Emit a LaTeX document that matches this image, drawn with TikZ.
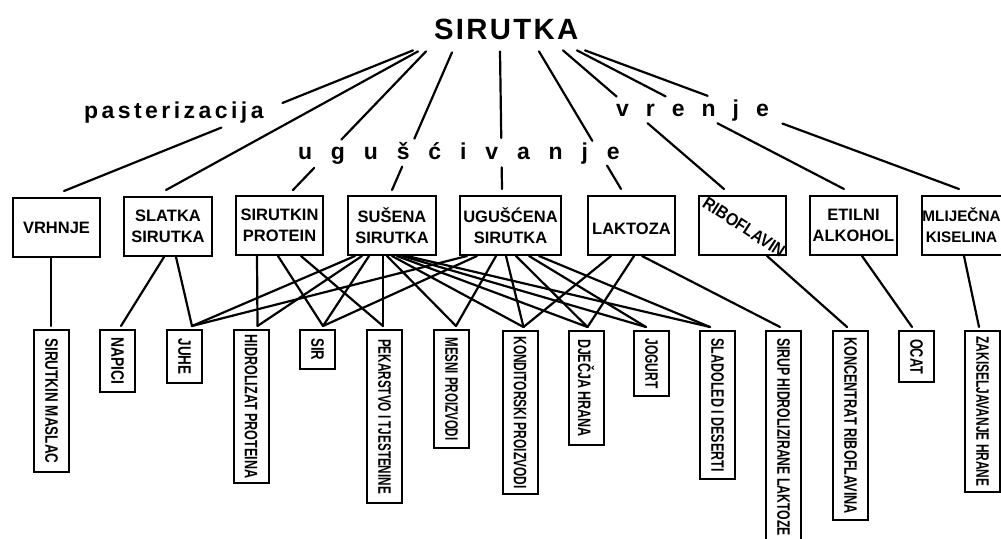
\documentclass[tikz,border=0pt]{standalone}
\usepackage{fontspec}
\setmainfont{Liberation Sans}
\newfontfamily\titlef[LetterSpace=8]{Liberation Sans Bold}
\newfontfamily\lblf[LetterSpace=15]{Liberation Sans Bold}
\newfontfamily\spreadf[LetterSpace=82]{Liberation Sans Bold}
\newfontfamily\spreadg[LetterSpace=74]{Liberation Sans Bold}
\newfontfamily\boxf{Liberation Sans Bold}
\usetikzlibrary{calc}
\newcommand\vt[2]{\rotatebox{-90}{\resizebox{#1pt}{\height}{#2}}}
\newcommand\conn[4]{\draw ($(#1.south west)+(#2,0)$) -- ($(#3.north west)+(#4,-3)$);}
\newcommand\toplink[4]{\draw (#1) -- ($(#1)!#3!(#2)$) ($(#1)!#4!(#2)$) -- (#2);}
\begin{document}
\begin{tikzpicture}[x=1pt,y=-1pt, line width=2.2pt, line cap=round,
  topbox/.style={draw, line width=2pt, minimum width=87pt, minimum height=59pt, inner sep=0pt, align=center, font=\boxf\fontsize{16.5}{21}\selectfont},
  boxtxt/.style={inner sep=0pt, align=center, font=\boxf\fontsize{16.5}{21}\selectfont},
  botbox/.style={draw, line width=2pt, minimum width=35pt, inner sep=0pt, anchor=north, font=\boxf\fontsize{18}{18}\selectfont},
  lbl/.style={anchor=base west, inner sep=0pt}]
\fill[white] (0,0) rectangle (1001,538);
\useasboundingbox (0,0) rectangle (1001,538);

% title and process labels
\node[lbl, font=\titlef\fontsize{29.3}{29}\selectfont] (sirutka) at (433,39) {SIRUTKA};
\node[lbl, font=\lblf\fontsize{23}{23}\selectfont] (past) at (83,118) {pasterizacija};
\node[lbl, font=\spreadf\fontsize{23}{23}\selectfont] (ugus) at (297,159) {ugušćivanje};
\node[lbl, font=\spreadg\fontsize{23}{23}\selectfont] (vrenje) at (615,116) {vrenje};

% first level
\node[topbox] (vrhnje) at (56.5,227.5) {VRHNJE};
\node[topbox, minimum width=88pt] (slatka) at (168,226.5) {SLATKA\\SIRUTKA};
\node[topbox] (protein) at (279.5,225.5) {SIRUTKIN\\PROTEIN};
\node[topbox, minimum width=88pt] (susena) at (392,225.5) {SUŠENA\\SIRUTKA};
\node[topbox, minimum width=101pt] (ugusc) at (510.5,225.5) {UGUŠĆENA\\SIRUTKA};
\node[topbox] (laktoza) at (631.5,225.5) {};
\node[boxtxt] (laktxt) at (631.5,228.5) {LAKTOZA};
\node[topbox] (ribo) at (742.5,225.5) {};
\node[rotate=-33, inner sep=0pt, font=\boxf\fontsize{17.5}{17.5}\selectfont] (ribotxt) at (744,227) {\resizebox{94pt}{\height}{RIBOFLAVIN}};
\node[topbox] (etil) at (853.5,225.5) {ETILNI\\ALKOHOL};
\node[topbox, minimum width=83pt] (mlij) at (963.5,225.5) {};
\node[boxtxt, font=\boxf\fontsize{15.3}{21}\selectfont] (mlijtxt) at (961.5,225.5) {MLIJEČNA\\KISELINA};

% second level
\node[botbox, minimum height=142pt] (maslac) at (51.5,329) {\vt{125}{SIRUTKIN MASLAC}};
\node[botbox, minimum height=62pt] (napici) at (117.5,329) {\vt{47}{NAPICI}};
\node[botbox, minimum height=53pt] (juhe) at (184.5,329) {\vt{36}{JUHE}};
\node[botbox, minimum height=153pt] (hidro) at (251,329) {\vt{144}{HIDROLIZAT PROTEINA}};
\node[botbox, minimum height=39pt] (sir) at (317.5,329) {\vt{22}{SIR}};
\node[botbox, minimum height=173pt] (pekar) at (384.5,329) {\vt{155}{PEKARSTVO I TJESTENINE}};
\node[botbox, minimum height=118pt] (mesni) at (451.5,329) {\vt{103}{MESNI PROIZVODI}};
\node[botbox, minimum height=163pt] (kondit) at (520,330) {\vt{152}{KONDITORSKI PROIZVODI}};
\node[botbox, minimum height=114pt] (djecja) at (586,330) {\vt{98}{DJEČJA HRANA}};
\node[botbox, minimum height=65pt] (jogurt) at (651.5,330) {\vt{50}{JOGURT}};
\node[botbox, minimum height=148pt] (sladoled) at (717.5,330) {\vt{133}{SLADOLED I DESERTI}};
\node[botbox, minimum height=212pt] (sirup) at (783.5,330) {\vt{198}{SIRUP HIDROLIZIRANE LAKTOZE}};
\node[botbox, minimum height=189pt] (koncent) at (850.5,330) {\vt{177}{KONCENTRAT RIBOFLAVINA}};
\node[botbox, minimum height=51pt] (ocat) at (916.5,330) {\vt{35}{OCAT}};
\node[botbox, minimum height=161pt] (zakis) at (982.5,330) {\vt{150}{ZAKISELJAVANJE HRANE}};

% lines from SIRUTKA
\coordinate (s1) at ($(sirutka.south west)+(-20,10)$);
\coordinate (s2) at ($(sirutka.south west)+(-15,11)$);
\coordinate (s3) at ($(sirutka.south west)+(-7,11)$);
\coordinate (s4) at ($(sirutka.south west)+(19,12)$);
\coordinate (s5) at ($(sirutka.south west)+(67,11)$);
\coordinate (s6) at ($(sirutka.south west)+(106,11)$);
\coordinate (s7) at ($(sirutka.south west)+(130,10)$);
\coordinate (s8) at ($(sirutka.south west)+(144,10)$);
\coordinate (s9) at ($(sirutka.south west)+(152,10)$);
\coordinate (e1) at ($(vrhnje.north west)+(52,-6)$);
\coordinate (e2) at ($(slatka.north west)+(43,-6)$);
\coordinate (e3) at ($(protein.north west)+(58,-5)$);
\coordinate (e4) at ($(susena.north west)+(45,-5)$);
\coordinate (e5) at ($(ugusc.north west)+(43,-6)$);
\coordinate (e6) at ($(laktoza.north west)+(34,-6)$);
\coordinate (e7) at ($(ribo.north west)+(26,-6)$);
\coordinate (e8) at ($(etil.north west)+(35,-6)$);
\coordinate (e9) at ($(mlij.north west)+(38,-6)$);
\toplink{s1}{e1}{0.374}{0.549}
\draw (s2) -- (e2);
\toplink{s3}{e3}{0.636}{0.841}
\toplink{s4}{e4}{0.627}{0.83}
\toplink{s5}{e5}{0.629}{0.843}
\toplink{s6}{e6}{0.65}{0.83}
\toplink{s7}{e7}{0.333}{0.525}
\toplink{s8}{e8}{0.332}{0.526}
\toplink{s9}{e9}{0.328}{0.528}

% lines to products
\conn{vrhnje}{39}{maslac}{18}
\conn{slatka}{41}{napici}{22}
\conn{slatka}{53}{juhe}{26}
\conn{protein}{22}{hidro}{25}
\conn{protein}{43}{sir}{24}
\conn{protein}{66}{pekar}{17}
\conn{susena}{8}{juhe}{26}
\conn{susena}{15}{hidro}{25}
\conn{susena}{22}{sir}{24}
\conn{susena}{36}{pekar}{17}
\conn{susena}{40}{mesni}{23}
\conn{susena}{45}{kondit}{22}
\conn{susena}{50}{djecja}{20}
\conn{susena}{55}{jogurt}{13}
\conn{susena}{60}{sladoled}{11}
\conn{ugusc}{8}{juhe}{26}
\conn{ugusc}{18}{sir}{24}
\conn{ugusc}{37}{mesni}{23}
\conn{ugusc}{47}{kondit}{22}
\conn{ugusc}{57}{djecja}{20}
\conn{ugusc}{70}{jogurt}{13}
\conn{ugusc}{80}{sladoled}{11}
\conn{laktoza}{24}{kondit}{22}
\conn{laktoza}{47}{djecja}{20}
\conn{laktoza}{55}{sirup}{15}
\conn{ribo}{69}{koncent}{15}
\conn{etil}{53}{ocat}{14}
\conn{mlij}{43}{zakis}{15}
\end{tikzpicture}
\end{document}
